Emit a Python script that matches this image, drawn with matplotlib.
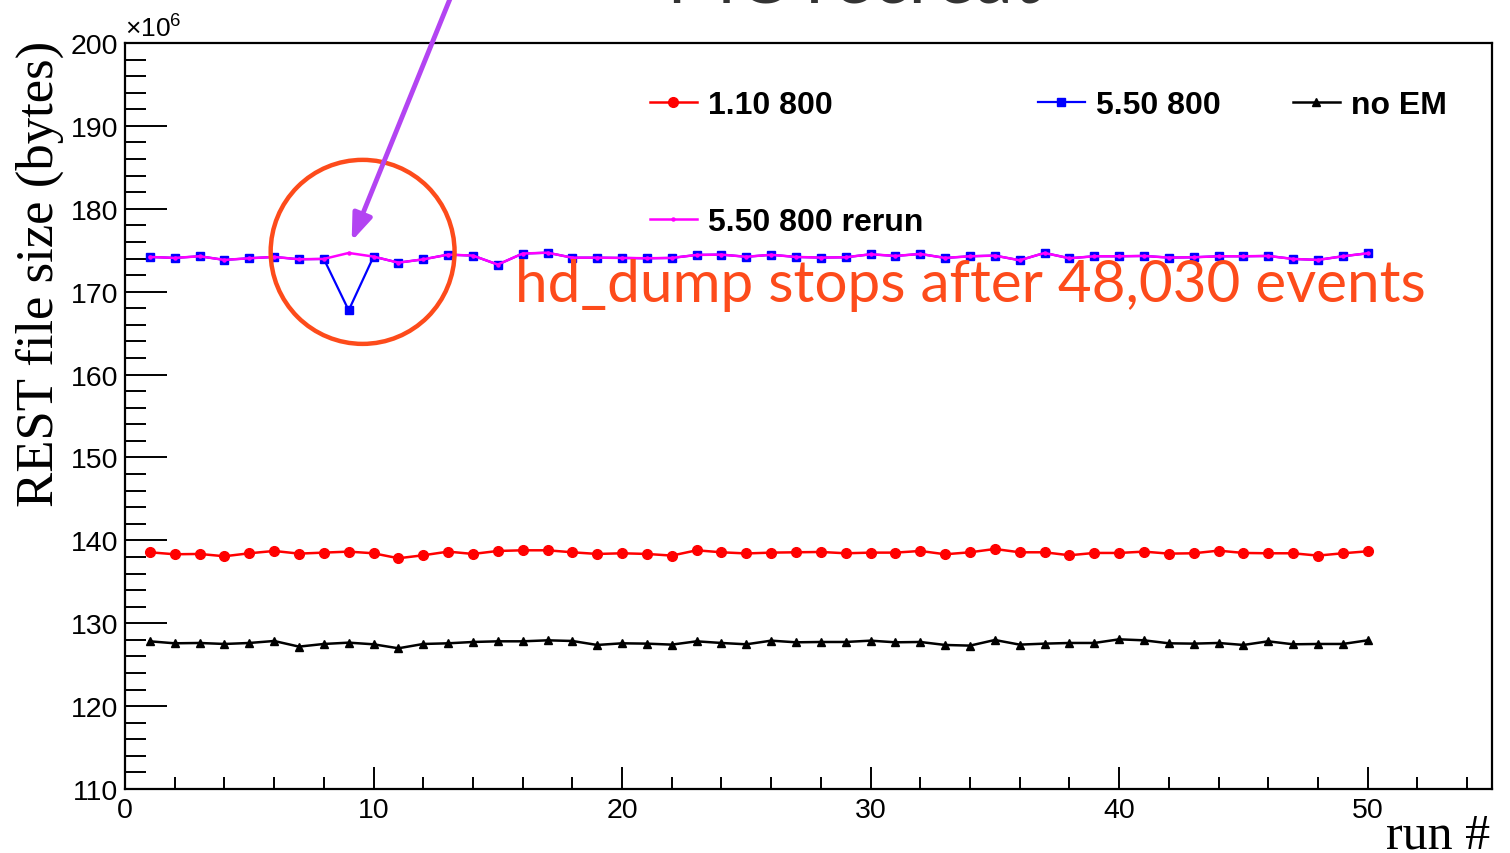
import numpy as np
import matplotlib
matplotlib.use("Agg")
import matplotlib.pyplot as plt
from matplotlib.patches import Ellipse
from matplotlib.ticker import MultipleLocator

# REST file size per run, in units of 1e6 bytes
runs = list(range(1, 51))

size_110_800 = [138.56, 138.32, 138.36, 138.08, 138.44, 138.72, 138.40, 138.52, 138.64, 138.44,
                137.84, 138.20, 138.64, 138.36, 138.72, 138.80, 138.80, 138.56, 138.36, 138.44,
                138.36, 138.16, 138.80, 138.56, 138.42, 138.52, 138.56, 138.60, 138.44, 138.52,
                138.52, 138.72, 138.32, 138.56, 138.96, 138.56, 138.56, 138.20, 138.48, 138.48,
                138.64, 138.40, 138.44, 138.76, 138.48, 138.44, 138.44, 138.16, 138.44, 138.68]

size_550_800 = [174.19, 174.07, 174.27, 173.83, 174.03, 174.19, 173.91, 173.95, 167.75, 174.23,
                173.50, 173.90, 174.47, 174.35, 173.27, 174.60, 174.70, 174.10, 174.10, 174.07,
                174.03, 174.07, 174.43, 174.47, 174.21, 174.45, 174.19, 174.11, 174.15, 174.51,
                174.31, 174.55, 174.07, 174.27, 174.35, 173.79, 174.67, 174.03, 174.27, 174.27,
                174.31, 174.11, 174.15, 174.27, 174.27, 174.31, 173.95, 173.83, 174.27, 174.63]

size_550_800_rerun = [174.19, 174.07, 174.27, 173.83, 174.03, 174.19, 173.91, 173.95, 174.67, 174.23,
                      173.50, 173.90, 174.47, 174.35, 173.27, 174.60, 174.70, 174.10, 174.10, 174.07,
                      174.03, 174.07, 174.43, 174.47, 174.21, 174.45, 174.19, 174.11, 174.15, 174.51,
                      174.31, 174.55, 174.07, 174.27, 174.35, 173.79, 174.67, 174.03, 174.27, 174.27,
                      174.31, 174.11, 174.15, 174.27, 174.27, 174.31, 173.95, 173.83, 174.27, 174.63]

size_no_em = [127.82, 127.58, 127.62, 127.50, 127.62, 127.86, 127.18, 127.50, 127.66, 127.46,
              126.98, 127.50, 127.58, 127.74, 127.82, 127.82, 127.94, 127.86, 127.38, 127.58,
              127.54, 127.42, 127.82, 127.62, 127.46, 127.90, 127.70, 127.74, 127.74, 127.90,
              127.70, 127.74, 127.38, 127.30, 127.98, 127.42, 127.54, 127.62, 127.62, 128.06,
              127.94, 127.58, 127.54, 127.62, 127.38, 127.82, 127.46, 127.50, 127.50, 127.94]

note_text = "hd_dump stops after 48,030 events"
bad_run = 9

# ---- ROOT-like style ----
plt.rcParams.update({
    "font.family": ["Liberation Sans", "DejaVu Sans"],
    "mathtext.fontset": "custom",
    "mathtext.rm": "Liberation Sans",
    "mathtext.it": "Liberation Sans",
    "axes.linewidth": 1.6,
})

ORANGE = "#fd4b1b"
PURPLE = "#b344f2"

fig = plt.figure(figsize=(15.1, 8.54), dpi=100)
ax = fig.add_axes([0.0828, 0.0749, 0.9052, 0.8736])

l_red, = ax.plot(runs, size_110_800, color="#ff0000", lw=1.8, marker="o", ms=7,
                 label="1.10 800")
l_blue, = ax.plot(runs, size_550_800, color="#0000ff", lw=1.6, marker="s", ms=5.5,
                  label="5.50 800")
l_black, = ax.plot(runs, size_no_em, color="black", lw=1.8, marker="^", ms=6,
                   label="no EM")
l_mag, = ax.plot(runs, size_550_800_rerun, color="#ff00ff", lw=1.8, marker="o", ms=2.2,
                 label="5.50 800 rerun")

ax.set_xlim(0, 55)
ax.set_ylim(110, 200)
ax.xaxis.set_major_locator(MultipleLocator(10))
ax.xaxis.set_minor_locator(MultipleLocator(2))
ax.yaxis.set_major_locator(MultipleLocator(10))
ax.yaxis.set_minor_locator(MultipleLocator(2))
ax.tick_params(axis="both", which="both", direction="in", top=False, right=False,
               width=1.4, labelsize=20.5)
ax.tick_params(axis="y", which="major", length=30, pad=5)
ax.tick_params(axis="y", which="minor", length=15)
ax.tick_params(axis="x", which="major", length=16, pad=6)
ax.tick_params(axis="x", which="minor", length=9)

ax.set_ylabel("REST file size (bytes)", family=["Liberation Serif"], fontsize=38, loc="top")
ax.yaxis.set_label_coords(-0.045, 1.005)
ax.set_xlabel("run #", family=["Liberation Serif"], fontsize=36, loc="right")
ax.xaxis.set_label_coords(0.9985, -0.031)

ax.text(0.0, 1.002, r"$\times10^{6}$", transform=ax.transAxes, ha="left", va="bottom",
        fontsize=19)

# legend, ROOT-style: three columns without frame
leg_kw = dict(frameon=False, handlelength=1.47, handletextpad=0.34,
              borderpad=0, borderaxespad=0, loc="upper left", numpoints=1,
              prop={"weight": "bold", "size": 23},
              bbox_transform=fig.transFigure)
leg_top = 1 - 91 / 854
leg1 = ax.legend(handles=[l_red, l_mag], labelspacing=2.72,
                 bbox_to_anchor=(650 / 1510, leg_top), **leg_kw)
ax.add_artist(leg1)
leg2 = ax.legend(handles=[l_blue], bbox_to_anchor=(1038 / 1510, leg_top), **leg_kw)
ax.add_artist(leg2)
ax.legend(handles=[l_black], bbox_to_anchor=(1293 / 1510, leg_top), **leg_kw)

# annotation: circle around the bad run, arrow and note
ax.add_patch(Ellipse((bad_run + 0.56, 174.8), width=7.4, height=22.2, fill=False,
                     edgecolor=ORANGE, lw=3.2, clip_on=False, zorder=5))
ax.annotate("", xy=(bad_run + 0.12, 176.1), xytext=(13.1, 205.5),
            arrowprops=dict(arrowstyle="-|>,head_length=1.6,head_width=0.6",
                            color=PURPLE, lw=3.5, shrinkA=0, shrinkB=0),
            annotation_clip=False, zorder=6)
ax.text(15.7, 168.9, note_text, color=ORANGE, fontsize=42, family=["Lato", "DejaVu Sans"],
        ha="left", va="baseline", zorder=6)

# slide title, cut off at the top edge of the picture as in the slide
fig.text(0.565, 1 - 4 / 854, "MC recreat", color="#333333", fontsize=54,
         family=["Lato", "DejaVu Sans"], ha="center", va="baseline")

fig.savefig("out.png", dpi=100)
